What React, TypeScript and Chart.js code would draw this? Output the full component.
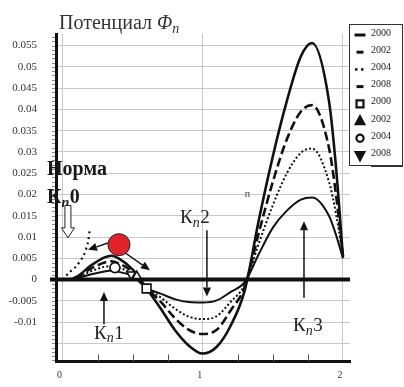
import React, { useEffect, useRef } from "react";
import { Chart, registerables } from "chart.js";

Chart.register(...registerables);

// ---------------- data ----------------
const xValues = [0, 0.05, 0.1, 0.2, 0.3, 0.35, 0.4, 0.5, 0.6, 0.7, 0.8, 0.9, 1.0, 1.1, 1.2, 1.3, 1.4, 1.5, 1.6, 1.7, 1.78, 1.9, 1.95, 2.0];
const series2000 = [0, 0, 0.0006, 0.0032, 0.0052, 0.0056, 0.005, 0.0024, -0.0021, -0.0068, -0.0118, -0.0155, -0.0174, -0.0158, -0.0108, -0.0025, 0.014, 0.029, 0.042, 0.0525, 0.0556, 0.042, 0.0265, 0.0052];
const series2002 = [0, 0, 0.0005, 0.0025, 0.004, 0.0043, 0.0038, 0.0018, -0.002, -0.0052, -0.009, -0.0118, -0.0128, -0.0118, -0.0072, -0.0017, 0.011, 0.023, 0.033, 0.0395, 0.041, 0.031, 0.02, 0.0055];
const series2004 = [0, 0, 0.0004, 0.0019, 0.003, 0.0032, 0.0028, 0.0013, -0.002, -0.0042, -0.0068, -0.0087, -0.0093, -0.0086, -0.0052, -0.0012, 0.0085, 0.0175, 0.025, 0.0298, 0.0308, 0.023, 0.0155, 0.0055];
const series2008 = [0, 0, 0.0003, 0.0012, 0.0019, 0.0021, 0.0018, 0.0008, -0.002, -0.0033, -0.0046, -0.0053, -0.0054, -0.0049, -0.0029, -0.0006, 0.006, 0.0122, 0.0162, 0.0188, 0.0193, 0.015, 0.0105, 0.005];
const normX = [0, 0.05, 0.1, 0.15, 0.18, 0.196];
const normY = [0, 0.0017, 0.0032, 0.0056, 0.0085, 0.0121];
const lineLabels = ["2000", "2002", "2004", "2008"];
const markerLabels = ["2000", "2002", "2004", "2008"];
const markerX = [0.6, 0.53, 0.374, 0.49];
const markerY = [-0.0021, 0.0008, 0.0028, 0.0012];
const yTickValues = [-0.015, -0.01, -0.005, 0, 0.005, 0.01, 0.015, 0.02, 0.025, 0.03, 0.035, 0.04, 0.045, 0.05, 0.055];
const yTickLabels = ["", "-0.01", "-0.005", "0", "0.005", "0.01", "0.015", "0.02", "0.025", "0.03", "0.035", "0.04", "0.045", "0.05", "0.055"];
const xTickValues = [0, 1, 2];
const xTickLabels = ["0", "1", "2"];
const xMinorTicks = [0.25, 0.5, 0.75, 1.25, 1.5, 1.75];

const SERIF = '"Liberation Serif", "Times New Roman", serif';

const toPts = (xs: number[], ys: number[]) => xs.map((x, i) => ({ x, y: ys[i] }));

function arrow(ctx: CanvasRenderingContext2D, x1: number, y1: number, x2: number, y2: number, head = 8) {
  const a = Math.atan2(y2 - y1, x2 - x1);
  const bx = x2 - head * Math.cos(a);
  const by = y2 - head * Math.sin(a);
  ctx.beginPath();
  ctx.moveTo(x1, y1);
  ctx.lineTo(bx, by);
  ctx.stroke();
  const hw = head * 0.45;
  ctx.beginPath();
  ctx.moveTo(x2, y2);
  ctx.lineTo(bx + hw * Math.sin(a), by - hw * Math.cos(a));
  ctx.lineTo(bx - hw * Math.sin(a), by + hw * Math.cos(a));
  ctx.closePath();
  ctx.fill();
}

function drawK(ctx: CanvasRenderingContext2D, x: number, y: number, tail: string, size: number, bold: boolean) {
  const main = `${bold ? "bold " : ""}${size}px ${SERIF}`;
  ctx.font = main;
  ctx.textAlign = "left";
  ctx.textBaseline = "alphabetic";
  ctx.fillText("К", x, y);
  const w1 = ctx.measureText("К").width;
  ctx.font = `italic ${bold ? "bold " : ""}${Math.round(size * 0.72)}px ${SERIF}`;
  ctx.fillText("n", x + w1, y + size * 0.2);
  const w2 = ctx.measureText("n").width;
  ctx.font = main;
  ctx.fillText(tail, x + w1 + w2 + 0.5, y);
}

function marker(ctx: CanvasRenderingContext2D, style: string, cx: number, cy: number, s: number, filled: boolean) {
  ctx.beginPath();
  if (style === "rect") {
    ctx.rect(cx - s, cy - s, 2 * s, 2 * s);
  } else if (style === "circle") {
    ctx.arc(cx, cy, s, 0, Math.PI * 2);
  } else if (style === "triangle") {
    ctx.moveTo(cx, cy - s * 1.1);
    ctx.lineTo(cx + s, cy + s * 0.75);
    ctx.lineTo(cx - s, cy + s * 0.75);
    ctx.closePath();
  } else {
    ctx.moveTo(cx, cy + s * 1.1);
    ctx.lineTo(cx + s, cy - s * 0.75);
    ctx.lineTo(cx - s, cy - s * 0.75);
    ctx.closePath();
  }
  ctx.fillStyle = filled ? "#111" : "#fff";
  ctx.fill();
  ctx.lineWidth = 2.2;
  ctx.strokeStyle = "#111";
  ctx.stroke();
}

const decorPlugin = {
  id: "decor",
  beforeDatasetsDraw(chart: any) {
    const { ctx, chartArea, scales } = chart;
    const x = scales.x;
    const y = scales.y;
    ctx.save();
    // minor ticks on y axis
    ctx.strokeStyle = "#8a8a8a";
    ctx.lineWidth = 1;
    for (let v = -19; v <= 57; v++) {
      const py = Math.round(y.getPixelForValue(v / 1000)) + 0.5;
      ctx.beginPath();
      ctx.moveTo(chartArea.left - 4, py);
      ctx.lineTo(chartArea.left - 1, py);
      ctx.stroke();
    }
    // minor ticks on x axis
    ctx.strokeStyle = "#555";
    xMinorTicks.forEach((v) => {
      const px = Math.round(x.getPixelForValue(v)) + 0.5;
      ctx.beginPath();
      ctx.moveTo(px, chartArea.bottom);
      ctx.lineTo(px, chartArea.bottom - 7);
      ctx.stroke();
    });
    // zero line
    const y0 = y.getPixelForValue(0);
    ctx.strokeStyle = "#111";
    ctx.lineWidth = 4;
    ctx.beginPath();
    ctx.moveTo(chartArea.left - 6, y0);
    ctx.lineTo(chartArea.right, y0);
    ctx.stroke();
    ctx.restore();
  },
  afterDraw(chart: any) {
    const { ctx, chartArea, scales } = chart;
    const X = (v: number) => scales.x.getPixelForValue(v);
    const Y = (v: number) => scales.y.getPixelForValue(v);
    ctx.save();

    // title
    ctx.fillStyle = "#333";
    ctx.textAlign = "left";
    ctx.textBaseline = "alphabetic";
    ctx.font = `20px ${SERIF}`;
    const tx = chartArea.left + 3;
    const ty = chartArea.top - 5;
    ctx.fillText("Потенциал ", tx, ty);
    let w = ctx.measureText("Потенциал ").width;
    ctx.font = `italic 20px ${SERIF}`;
    ctx.fillText("Φ", tx + w, ty);
    w += ctx.measureText("Φ").width;
    ctx.font = `italic 14px ${SERIF}`;
    ctx.fillText("n", tx + w, ty + 4);

    // annotation texts
    ctx.fillStyle = "#1a1a1a";
    ctx.font = `bold 20px ${SERIF}`;
    ctx.fillText("Норма", X(-0.11), Y(0.0245));
    drawK(ctx, X(-0.11), Y(0.0179), "0", 20, true);
    ctx.fillStyle = "#222";
    drawK(ctx, X(0.225), Y(-0.0139), "1", 19, false);
    drawK(ctx, X(0.838), Y(0.0133), "2", 19, false);
    drawK(ctx, X(1.644), Y(-0.0121), "3", 19, false);
    ctx.font = `10px ${SERIF}`;
    ctx.fillStyle = "#444";
    ctx.fillText("п", X(1.3), Y(0.0193));

    // arrows
    ctx.strokeStyle = "#111";
    ctx.fillStyle = "#111";
    ctx.lineWidth = 1.5;
    arrow(ctx, X(0.296), Y(-0.0105), X(0.296), Y(-0.0029), 9);
    arrow(ctx, X(1.03), Y(0.0116), X(1.03), Y(-0.004), 9);
    arrow(ctx, X(1.722), Y(-0.0043), X(1.722), Y(0.0137), 9);
    arrow(ctx, X(0.324), Y(0.0086), X(0.182), Y(0.007), 9);
    arrow(ctx, X(0.446), Y(0.0063), X(0.624), Y(0.0022), 9);

    // red circle
    ctx.beginPath();
    ctx.arc(X(0.403), Y(0.0082), 11, 0, Math.PI * 2);
    ctx.fillStyle = "#e3232b";
    ctx.fill();
    ctx.lineWidth = 1;
    ctx.strokeStyle = "#222";
    ctx.stroke();

    // hollow "norm" arrow
    const ax = X(0.039);
    const aTop = Y(0.0174);
    const aTip = Y(0.0098);
    ctx.beginPath();
    ctx.moveTo(ax - 3, aTop);
    ctx.lineTo(ax + 3, aTop);
    ctx.lineTo(ax + 3, aTip - 10);
    ctx.lineTo(ax + 6.5, aTip - 10);
    ctx.lineTo(ax, aTip);
    ctx.lineTo(ax - 6.5, aTip - 10);
    ctx.lineTo(ax - 3, aTip - 10);
    ctx.closePath();
    ctx.fillStyle = "#fff";
    ctx.fill();
    ctx.strokeStyle = "#222";
    ctx.lineWidth = 1;
    ctx.stroke();

    // legend
    const lx = chartArea.right - 1;
    const lt = chartArea.top - 10;
    const lw = 54;
    const lh = 142;
    ctx.fillStyle = "#fff";
    ctx.fillRect(lx, lt, lw, lh);
    ctx.strokeStyle = "#333";
    ctx.lineWidth = 1;
    ctx.strokeRect(lx + 0.5, lt + 0.5, lw - 1, lh - 1);
    ctx.lineWidth = 2;
    ctx.beginPath();
    ctx.moveTo(lx + 22, lt + lh);
    ctx.lineTo(lx + lw, lt + lh);
    ctx.stroke();
    const items = chart.data.datasets.filter((d: any) => d.inLegend);
    items.forEach((d: any, i: number) => {
      const cy = lt + 11 + i * 17.2;
      const sx = lx + 11;
      if (d.kind === "line") {
        ctx.save();
        ctx.strokeStyle = "#111";
        ctx.lineWidth = 3;
        if (d.legendDots) {
          ctx.fillStyle = "#111";
          ctx.fillRect(sx - 5, cy - 1.2, 2.5, 2.5);
          ctx.fillRect(sx + 1, cy - 1.2, 2.5, 2.5);
        } else {
          ctx.beginPath();
          ctx.moveTo(sx - d.legendHalf, cy);
          ctx.lineTo(sx + d.legendHalf, cy);
          ctx.stroke();
        }
        ctx.restore();
      } else {
        const st = d.rotation === 180 ? "down" : d.pointStyle;
        marker(ctx, st, sx, cy, st === "rect" ? 3.5 : st === "circle" ? 3.6 : 4.3, st === "triangle" || st === "down");
      }
      ctx.fillStyle = "#222";
      ctx.font = `10px ${SERIF}`;
      ctx.textAlign = "left";
      ctx.textBaseline = "alphabetic";
      ctx.fillText(d.label, lx + 22, cy + 0.5);
    });
    ctx.restore();
  },
};

export default function App() {
  const ref = useRef<HTMLCanvasElement | null>(null);
  useEffect(() => {
    document.body.style.margin = "0";
    const canvas = ref.current;
    if (!canvas) return;
    Chart.defaults.font.family = SERIF;
    const lineStyles = [
      { w: 2.6, dash: [] as number[], half: 5.5, dots: false },
      { w: 2.6, dash: [9, 4], half: 3.5, dots: false },
      { w: 2, dash: [2, 2.2], half: 0, dots: true },
      { w: 2, dash: [] as number[], half: 3.5, dots: false },
    ];
    const seriesList = [series2000, series2002, series2004, series2008];
    const lineSets = seriesList.map((s, i) => ({
      type: "line" as const,
      label: lineLabels[i],
      data: toPts(xValues, s),
      borderColor: "#111",
      borderWidth: lineStyles[i].w,
      borderDash: lineStyles[i].dash,
      pointRadius: 0,
      cubicInterpolationMode: "monotone" as const,
      fill: false,
      inLegend: true,
      kind: "line",
      legendHalf: lineStyles[i].half,
      legendDots: lineStyles[i].dots,
      order: 2,
    }));
    const styles = ["rect", "triangle", "circle", "triangle"];
    const radii = [6.2, 5, 5, 5];
    const markerSets = markerLabels.map((lab, i) => ({
      type: "scatter" as const,
      label: lab,
      data: [{ x: markerX[i], y: markerY[i] }],
      pointStyle: styles[i],
      rotation: i === 3 ? 180 : 0,
      pointRotation: i === 3 ? 180 : 0,
      pointRadius: radii[i],
      pointBackgroundColor: "#fff",
      pointBorderColor: "#111",
      pointBorderWidth: 1.6,
      showLine: false,
      inLegend: true,
      kind: "marker",
      order: 0,
    }));
    const normSet = {
      type: "line" as const,
      label: "norm",
      data: toPts(normX, normY),
      borderColor: "#111",
      borderWidth: 2.2,
      borderDash: [2, 3.5],
      pointRadius: 0,
      tension: 0.3,
      fill: false,
      inLegend: false,
      kind: "norm",
      order: 1,
    };
    const chart = new Chart(canvas, {
      type: "line",
      data: { datasets: [...lineSets, ...markerSets, normSet] as any },
      options: {
        responsive: false,
        animation: false,
        layout: { padding: { top: 34, right: 54, left: 0, bottom: 0 } },
        plugins: { legend: { display: false }, tooltip: { enabled: false }, title: { display: false } },
        scales: {
          x: {
            type: "linear",
            min: -0.046,
            max: 2.05,
            afterBuildTicks: (s: any) => {
              s.ticks = xTickValues.map((v) => ({ value: v }));
            },
            afterFit: (s: any) => {
              s.height = 19;
            },
            ticks: {
              callback: (_v: any, i: number) => xTickLabels[i],
              font: { size: 10, family: SERIF },
              color: "#333",
              padding: 8,
              labelOffset: -3,
              maxRotation: 0,
              autoSkip: false,
            },
            grid: { color: "#c8c8c8", lineWidth: 1, drawTicks: false },
            border: { display: true, color: "#111", width: 3 },
          },
          y: {
            type: "linear",
            min: -0.01924,
            max: 0.05772,
            afterBuildTicks: (s: any) => {
              s.ticks = yTickValues.map((v) => ({ value: v }));
            },
            afterFit: (s: any) => {
              s.width = 56;
            },
            ticks: {
              callback: (_v: any, i: number) => yTickLabels[i],
              font: { size: 11, family: SERIF },
              color: "#333",
              padding: 19,
              autoSkip: false,
            },
            grid: { color: "#c8c8c8", lineWidth: 1, drawTicks: false },
            border: { display: true, color: "#111", width: 3 },
          },
        },
      } as any,
      plugins: [decorPlugin],
    });
    return () => chart.destroy();
  }, []);
  return (
    <div style={{ width: 404, height: 387, background: "#fff" }}>
      <canvas ref={ref} width={404} height={387} style={{ display: "block", width: 404, height: 387 }} />
    </div>
  );
}
